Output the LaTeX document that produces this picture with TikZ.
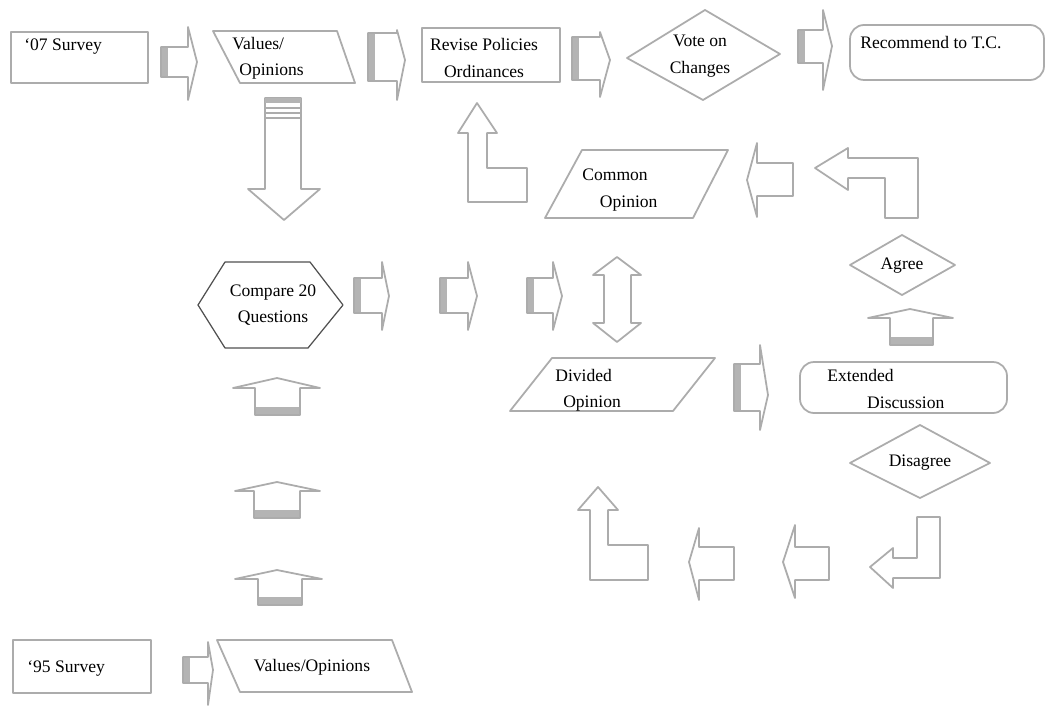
\documentclass[tikz,border=0pt]{standalone}
\usepackage{fontspec}
\setmainfont{Liberation Serif}
\definecolor{lc}{RGB}{172,172,172}
\definecolor{sc}{RGB}{180,180,180}
\definecolor{hx}{RGB}{80,80,80}
\tikzset{
  ln/.style={draw=lc, line width=1pt, line join=round},
  shd/.style={fill=sc},
  hexl/.style={draw=hx, line width=0.7pt, line join=round},
  txt/.style={inner sep=0pt, font=\fontsize{10}{15}\selectfont, text=black},
}
% right block arrow: x0 x1 xtip ytop ybot yheadtop yheadbot ytip
\newcommand\myRA[8]{%
  \fill[shd] (#1,#4) rectangle (#1+7,#5);
  \draw[ln] (#1,#4) -- (#2,#4) -- (#2,#6) -- (#3,#8) -- (#2,#7) -- (#2,#5) -- (#1,#5) -- cycle;}
% left block arrow: xtip xhead xright ytop ybot yheadtop yheadbot ytip
\newcommand\myLA[8]{%
  \draw[ln] (#3,#4) -- (#2,#4) -- (#2,#6) -- (#1,#8) -- (#2,#7) -- (#2,#5) -- (#3,#5) -- cycle;}
% up cap arrow: xl xr xpeak ypeak yroof xbl xbr ybot
\newcommand\myUA[8]{%
  \fill[shd] (#6,#8-8) rectangle (#7,#8);
  \draw[ln] (#6,#8) -- (#6,#5) -- (#1,#5) -- (#3,#4) -- (#2,#5) -- (#7,#5) -- (#7,#8) -- cycle;}
\begin{document}
\begin{tikzpicture}[x=0.02cm,y=-0.02cm]
\useasboundingbox[fill=white] (0,0) rectangle (1048,706);

% ---------- top row ----------
\draw[ln] (11,32) rectangle (148,83);
\node[txt, anchor=west] (s07) at (24,47) {`07 Survey};

\myRA{161}{188}{197}{47}{77}{27}{100}{62}

\draw[ln] (213,31) -- (337,31) -- (355,83) -- (240,83) -- cycle;
\node[txt, anchor=west, align=left] (val07) at (232,58) {Values/\\\hspace*{4pt}Opinions};

\myRA{368}{397}{405}{33}{81}{30}{100}{60}

\draw[ln] (422,28) rectangle (560,82);
\node[txt, align=center] (rev) at (484,58) {Revise Policies\\Ordinances};

\myRA{572}{600}{610}{37}{80}{32}{97}{60}

\draw[ln] (627,58) -- (705,10) -- (780,54) -- (703,100) -- cycle;
\node[txt, align=center] (vote) at (700,56) {Vote on\\Changes};

\myRA{798}{823}{832}{30}{63}{10}{90}{46}

\draw[ln, rounded corners=8] (850,25) rectangle (1044,80);
\node[txt, anchor=west] (rec) at (860,43) {Recommend to T.C.};

% ---------- big down arrow ----------
\draw[ln] (265,98) -- (301,98) -- (301,189) -- (320,189) -- (284,220) -- (248,189) -- (265,189) -- cycle;
\fill[sc] (265,98) rectangle (301,103);
\draw[lc, line width=1.2pt] (265,108) -- (301,108);
\draw[lc, line width=1.2pt] (265,113) -- (301,113);
\draw[lc, line width=1pt] (265,118) -- (301,118);

% ---------- L arrow up to Revise ----------
\draw[ln] (477,103) -- (497,133) -- (487,133) -- (487,168) -- (527,168) -- (527,202) -- (468,202) -- (468,133) -- (458,133) -- cycle;

% ---------- Common Opinion ----------
\draw[ln] (582,150) -- (728,150) -- (693,218) -- (545,218) -- cycle;
\node[txt, anchor=west, align=left] (common) at (582,190) {Common\\\hspace*{10pt}Opinion};

\myLA{747}{757}{793}{163}{196}{143}{217}{180}

\draw[ln] (815,168) -- (848,148) -- (848,158) -- (918,158) -- (918,218) -- (885,218) -- (885,178) -- (848,178) -- (848,190) -- cycle;

% ---------- Agree ----------
\draw[ln] (850,265) -- (902,235) -- (955,265) -- (902,295) -- cycle;
\node[txt] (agree) at (902,266) {Agree};

\myUA{868}{953}{910}{309}{318}{890}{933}{345}

% ---------- Compare hexagon ----------
\draw[hexl] (225,262) -- (310,262) -- (343,305) -- (308,348) -- (225,348) -- (198,305) -- cycle;
\node[txt, align=center] (cmp) at (273,305) {Compare 20\\Questions};

% ---------- middle arrows ----------
\myRA{354}{382}{389}{278}{313}{262}{330}{296}
\myRA{440}{468}{477}{278}{313}{262}{330}{296}
\myRA{527}{553}{562}{278}{313}{262}{330}{296}

\draw[ln] (617,257) -- (641,275) -- (631,275) -- (631,323) -- (641,323) -- (617,342) -- (593,323) -- (604,323) -- (604,275) -- (593,275) -- cycle;

% ---------- Divided Opinion ----------
\draw[ln] (552,358) -- (715,358) -- (673,411) -- (510,411) -- cycle;
\node[txt, anchor=west, align=left] (divided) at (555,390) {Divided\\\hspace*{4.5pt}Opinion};

\myRA{734}{760}{768}{364}{411}{345}{430}{395}

\draw[ln, rounded corners=8] (800,362) rectangle (1007,413);
\node[txt, anchor=west, align=left] (ext) at (827,389) {Extended\\\hspace*{22.7pt}Discussion};

% ---------- Disagree ----------
\draw[ln] (850,463) -- (920,425) -- (990,463) -- (920,498) -- cycle;
\node[txt] (dis) at (920,463) {Disagree};

% ---------- bottom return arrows ----------
\draw[ln] (870,567) -- (893,548) -- (893,558) -- (917,558) -- (917,517) -- (940,517) -- (940,578) -- (893,578) -- (893,588) -- cycle;
\myLA{783}{795}{829}{547}{580}{525}{598}{562}
\myLA{689}{699}{734}{547}{580}{528}{600}{562}
\draw[ln] (598,487) -- (618,510) -- (608,510) -- (608,545) -- (648,545) -- (648,580) -- (590,580) -- (590,510) -- (578,510) -- cycle;

% ---------- up caps under hexagon ----------
\myUA{233}{320}{277}{378}{388}{255}{300}{415}
\myUA{235}{320}{277}{482}{491}{254}{300}{518}
\myUA{235}{322}{277}{570}{579}{258}{302}{605}

% ---------- bottom row ----------
\draw[ln] (13,640) rectangle (151,693);
\node[txt, anchor=west] (s95) at (27,669) {`95 Survey};

\myRA{183}{208}{213}{657}{683}{642}{705}{670}

\draw[ln] (217,640) -- (392,640) -- (412,692) -- (240,692) -- cycle;
\node[txt] (val95) at (312,667) {Values/Opinions};
\end{tikzpicture}
\end{document}
